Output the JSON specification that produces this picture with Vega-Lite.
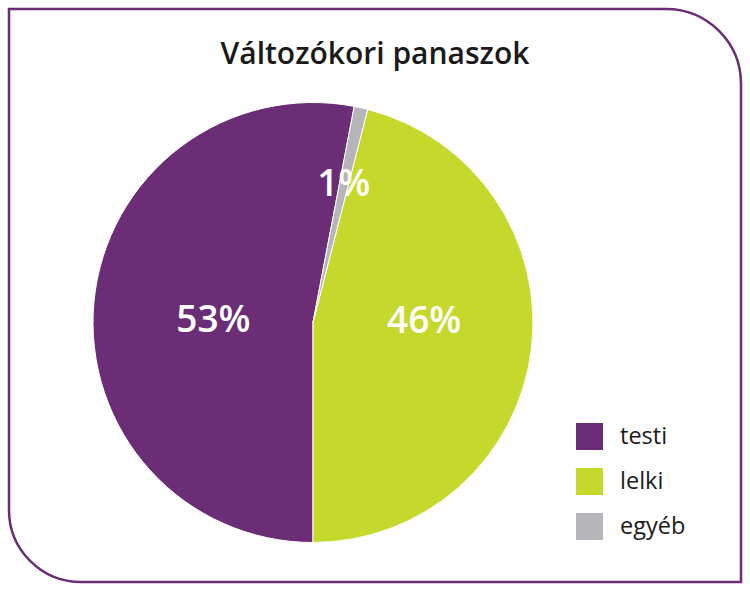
{
  "$schema": "https://vega.github.io/schema/vega-lite/v6.json",
  "width": 750,
  "height": 591,
  "autosize": {"type": "fit", "contains": "padding"},
  "padding": {"left": 7, "top": 7, "right": 7, "bottom": 7},
  "background": "white",
  "title": {
    "text": "Változókori panaszok",
    "orient": "top",
    "anchor": "middle",
    "baseline": "alphabetic",
    "offset": -86,
    "font": "Open Sans",
    "fontSize": 30,
    "fontWeight": 600,
    "color": "#1a1a1a"
  },
  "data": {
    "values": [
      {"category": "testi", "value": 53, "label": "53%"},
      {"category": "lelki", "value": 46, "label": "46%"},
      {"category": "egyéb", "value": 1, "label": "1%"}
    ]
  },
  "layer": [
    {
      "data": {"values": [{}]},
      "mark": {
        "type": "rect",
        "fill": "white",
        "stroke": "#6b2d75",
        "strokeWidth": 2.5,
        "cornerRadiusTopRight": 75,
        "cornerRadiusBottomLeft": 72
      },
      "encoding": {
        "x": {"value": 0},
        "x2": {"value": "width"},
        "y": {"value": 0},
        "y2": {"value": "height"}
      }
    },
    {
      "mark": {
        "type": "arc",
        "outerRadius": 220,
        "stroke": "white",
        "strokeWidth": 1,
        "xOffset": -62,
        "yOffset": 27
      },
      "encoding": {
        "theta": {
          "field": "value",
          "type": "quantitative",
          "stack": true,
          "scale": {"range": [0.1885, 6.4717]}
        },
        "color": {
          "field": "category",
          "type": "nominal",
          "scale": {
            "domain": ["testi", "lelki", "egyéb"],
            "range": ["#6b2d75", "#c5d92d", "#b5b5ba"]
          },
          "legend": {
            "title": null,
            "orient": "none",
            "legendX": 567,
            "legendY": 414,
            "symbolType": "square",
            "symbolSize": 729,
            "symbolStrokeWidth": 0,
            "symbolOpacity": 1,
            "labelFont": "Open Sans",
            "labelFontSize": 23.5,
            "labelColor": "#1a1a1a",
            "labelOffset": 17,
            "rowPadding": 18
          }
        }
      }
    },
    {
      "mark": {
        "type": "text",
        "radius": 100,
        "dy": 8,
        "font": "Open Sans",
        "fontSize": 37,
        "fontWeight": 600,
        "fill": "white",
        "baseline": "middle",
        "align": "center",
        "xOffset": -62,
        "yOffset": 27
      },
      "encoding": {
        "theta": {"field": "value", "type": "quantitative", "stack": true},
        "color": {"field": "category", "type": "nominal"},
        "text": {
          "condition": {"test": "datum.category === 'testi'", "field": "label"},
          "value": ""
        }
      }
    },
    {
      "mark": {
        "type": "text",
        "radius": 112,
        "dy": -15,
        "font": "Open Sans",
        "fontSize": 37,
        "fontWeight": 600,
        "fill": "white",
        "baseline": "middle",
        "align": "center",
        "xOffset": -62,
        "yOffset": 27
      },
      "encoding": {
        "theta": {"field": "value", "type": "quantitative", "stack": true},
        "color": {"field": "category", "type": "nominal"},
        "text": {
          "condition": {"test": "datum.category === 'lelki'", "field": "label"},
          "value": ""
        }
      }
    },
    {
      "mark": {
        "type": "text",
        "radius": 141,
        "font": "Open Sans",
        "fontSize": 37,
        "fontWeight": 600,
        "fill": "white",
        "baseline": "middle",
        "align": "center",
        "xOffset": -62,
        "yOffset": 27
      },
      "encoding": {
        "theta": {"field": "value", "type": "quantitative", "stack": true},
        "color": {"field": "category", "type": "nominal"},
        "text": {
          "condition": {"test": "datum.category === 'egyéb'", "field": "label"},
          "value": ""
        }
      }
    }
  ],
  "config": {"view": {"stroke": null}}
}
